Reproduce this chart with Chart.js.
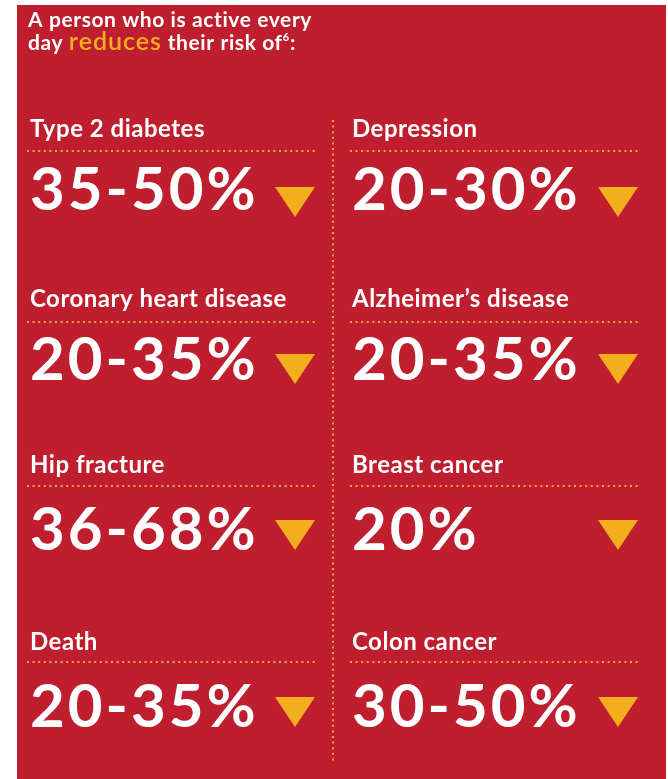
<!DOCTYPE html>
<html>
<head>
<meta charset="utf-8">
<script src="https://cdn.jsdelivr.net/npm/chart.js@4.4.1/dist/chart.umd.min.js"></script>
<style>
  html, body { margin: 0; padding: 0; background: #fff; }
  #wrap { width: 668px; height: 779px; }
</style>
</head>
<body>
<div id="wrap"><canvas id="chart" width="668" height="779"></canvas></div>
<script>
// 数据：每一项风险及其降低幅度（百分比区间）
const categories = ['Type 2 diabetes', 'Depression', 'Coronary heart disease', 'Alzheimer\u2019s disease',
  'Hip fracture', 'Breast cancer', 'Death', 'Colon cancer'];
const lowValues = [35, 20, 20, 20, 36, 20, 20, 30];
const highValues = [50, 30, 35, 35, 68, null, 35, 50];
const titleLine1 = 'A person who is active every';
const titleLine2 = ['day ', 'reduces', ' their risk of', '6', ':'];

// 版式
const W = 668, H = 779;
const RED = '#be1e2d';
const GOLD = '#f2ae1c';
const DOT = '#f0a53a';
const colX = [30, 352];
const labelY = [137, 307, 473, 650];
const dotY = [151, 322, 486, 662];
const pctY = [210, 380, 550, 727];
const triY = [202, 369, 535, 712];
const triX = [295, 618];
const dotSpan = [[27, 315], [350, 640]];

/**
 * 生成向下的三角形图标
 */
function makeTriangle(w, h, color) {
  const c = document.createElement('canvas');
  c.width = w;
  c.height = h;
  const g = c.getContext('2d');
  g.fillStyle = color;
  g.beginPath();
  g.moveTo(0, 0);
  g.lineTo(w, 0);
  g.lineTo(w / 2, h);
  g.closePath();
  g.fill();
  return c;
}

function pctText(i) {
  return lowValues[i] + (highValues[i] != null ? '-' + highValues[i] : '') + '%';
}

const triangle = makeTriangle(40, 30, GOLD);

const triPoints = categories.map((c, i) => ({ x: triX[i % 2], y: triY[Math.floor(i / 2)] }));

const datasets = [{
  data: triPoints,
  pointStyle: triangle,
  pointRadius: 20,
  showLine: false
}];

// 虚线分隔
categories.forEach((c, i) => {
  const col = i % 2, row = Math.floor(i / 2);
  datasets.push({
    data: [{ x: dotSpan[col][0], y: dotY[row] }, { x: dotSpan[col][1], y: dotY[row] }],
    showLine: true,
    borderColor: DOT,
    borderWidth: 2,
    borderDash: [2, 3.6],
    pointRadius: 0
  });
});
datasets.push({
  data: [{ x: 333, y: 120 }, { x: 333, y: 762 }],
  showLine: true,
  borderColor: DOT,
  borderWidth: 2,
  borderDash: [2, 3.6],
  pointRadius: 0
});

const backgroundPlugin = {
  id: 'panelBg',
  beforeDraw(chart) {
    const ctx = chart.ctx;
    ctx.save();
    ctx.fillStyle = '#fff';
    ctx.fillRect(0, 0, W, H);
    ctx.fillStyle = RED;
    ctx.fillRect(17, 5, 649, H - 5);
    ctx.restore();
  }
};

function setFont(ctx, font, spacing) {
  ctx.font = font;
  ctx.letterSpacing = spacing + 'px';
}

const textPlugin = {
  id: 'infoText',
  afterDatasetsDraw(chart) {
    const { ctx, scales: { x, y } } = chart;
    ctx.save();
    ctx.textBaseline = 'alphabetic';
    ctx.textAlign = 'left';

    // 标题
    ctx.fillStyle = '#fff';
    setFont(ctx, 'bold 21px Lato', 0.6);
    ctx.fillText(titleLine1, x.getPixelForValue(28), y.getPixelForValue(27));
    let cx = x.getPixelForValue(28);
    const ty = y.getPixelForValue(50);
    ctx.fillText(titleLine2[0], cx, ty);
    cx += ctx.measureText(titleLine2[0]).width;
    setFont(ctx, '600 25px Lato', 1);
    ctx.fillStyle = GOLD;
    ctx.fillText(titleLine2[1], cx, ty);
    cx += ctx.measureText(titleLine2[1]).width;
    setFont(ctx, 'bold 21px Lato', 0.6);
    ctx.fillStyle = '#fff';
    ctx.fillText(titleLine2[2], cx, ty);
    cx += ctx.measureText(titleLine2[2]).width;
    setFont(ctx, 'bold 11px Lato', 0);
    ctx.fillText(titleLine2[3], cx, ty - 9);
    cx += ctx.measureText(titleLine2[3]).width + 1;
    setFont(ctx, 'bold 21px Lato', 0.6);
    ctx.fillText(titleLine2[4], cx, ty);

    // 各项
    categories.forEach((label, i) => {
      const col = i % 2, row = Math.floor(i / 2);
      const px = x.getPixelForValue(colX[col]);
      ctx.fillStyle = '#fff';
      setFont(ctx, 'bold 24px Lato', 0.5);
      ctx.fillText(label, px, y.getPixelForValue(labelY[row]));
      setFont(ctx, 'bold 60px Lato', 3);
      ctx.fillText(pctText(i), px, y.getPixelForValue(pctY[row]));
    });
    ctx.restore();
  }
};

new Chart(document.getElementById('chart'), {
  type: 'scatter',
  data: { datasets },
  options: {
    responsive: false,
    animation: false,
    events: [],
    layout: { padding: 0, autoPadding: false },
    plugins: {
      legend: { display: false },
      tooltip: { enabled: false }
    },
    scales: {
      x: { type: 'linear', min: 0, max: W, display: false },
      y: { type: 'linear', min: 0, max: H, reverse: true, display: false }
    }
  },
  plugins: [backgroundPlugin, textPlugin]
});
</script>
</body>
</html>
